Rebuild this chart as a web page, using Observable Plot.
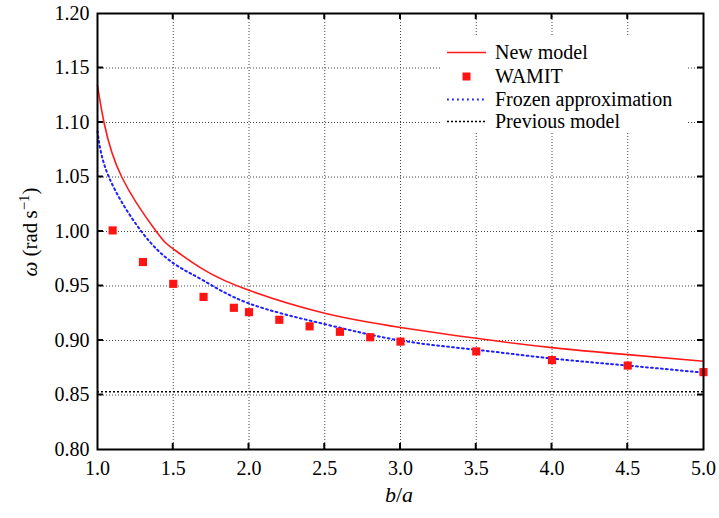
<!DOCTYPE html>
<html>
<head>
<meta charset="utf-8">
<script src="https://cdn.jsdelivr.net/npm/d3@7"></script>
<script src="https://cdn.jsdelivr.net/npm/@observablehq/plot@0.6"></script>
<style>
  html, body { margin: 0; padding: 0; background: white; }
  svg { display: block; }
</style>
</head>
<body>
<div id="chart"></div>
<script>
// ---- data ----
const xTicks = [1.0, 1.5, 2.0, 2.5, 3.0, 3.5, 4.0, 4.5, 5.0];
const yTicks = [0.80, 0.85, 0.90, 0.95, 1.00, 1.05, 1.10, 1.15, 1.20];

const newModelX = [1.0, 1.043, 1.16, 1.388, 1.5, 1.7, 2.0, 2.5, 3.0, 3.5, 4.0, 4.5, 5.0];
const newModelY = [1.134, 1.100, 1.050, 1.000, 0.984, 0.965, 0.946, 0.925, 0.912, 0.902, 0.8935, 0.887, 0.881];

const frozenX = [1.0, 1.075, 1.29, 1.5, 1.7, 2.0, 2.5, 3.0, 3.5, 4.0, 4.5, 5.0];
const frozenY = [1.092, 1.050, 1.000, 0.971, 0.955, 0.934, 0.915, 0.900, 0.8915, 0.8835, 0.877, 0.8705];

const wamitX = [1.1, 1.3, 1.5, 1.7, 1.9, 2.0, 2.2, 2.4, 2.6, 2.8, 3.0, 3.5, 4.0, 4.5, 5.0];
const wamitY = [1.001, 0.972, 0.952, 0.940, 0.930, 0.926, 0.919, 0.913, 0.908, 0.903, 0.899, 0.890, 0.882, 0.877, 0.871];

const previousModel = 0.853;

const seriesNames = ["New model", "WAMIT", "Frozen approximation", "Previous model"];

// ---- build tables ----
const newModel = newModelX.map((x, i) => ({x, y: newModelY[i]}));
const frozen = frozenX.map((x, i) => ({x, y: frozenY[i]}));
const wamit = wamitX.map((x, i) => ({x, y: wamitY[i]}));

// pick an installed serif font
function pickFont(cands) {
  const c = document.createElement("canvas").getContext("2d");
  const s = "Frozen approximation WAMIT 0.123456789 mmmiiilll";
  const base = {};
  for (const g of ["monospace", "sans-serif"]) { c.font = "40px " + g; base[g] = c.measureText(s).width; }
  for (const f of cands) {
    let ok = true;
    for (const g of ["monospace", "sans-serif"]) {
      c.font = `40px "${f}", ${g}`;
      if (Math.abs(c.measureText(s).width - base[g]) < 0.5) ok = false;
    }
    if (ok) return `"${f}", serif`;
  }
  return "serif";
}
const FONT = pickFont(["Liberation Serif", "Tinos", "Times New Roman", "Nimbus Roman", "Nimbus Roman No9 L", "FreeSerif", "Noto Serif", "DejaVu Serif", "serif"]);

const plot = Plot.plot({
  width: 719,
  height: 518,
  marginLeft: 97,
  marginRight: 16,
  marginTop: 13,
  marginBottom: 69,
  x: {domain: [1, 5]},
  y: {domain: [0.8, 1.2]},
  style: {fontFamily: FONT, fontSize: "20px", background: "white", color: "black"},
  marks: [
    Plot.ruleX(xTicks.slice(1, -1), {stroke: "#444", strokeWidth: 1, strokeDasharray: "1,2"}),
    Plot.ruleY(yTicks.slice(1, -1), {stroke: "#444", strokeWidth: 1, strokeDasharray: "1,2"}),
    Plot.ruleY([previousModel], {stroke: "black", strokeWidth: 1.5, strokeDasharray: "2,2"}),
    Plot.line(frozen, {x: "x", y: "y", stroke: "#1f1fff", strokeWidth: 2, strokeDasharray: "1.8,3.2", curve: "natural"}),
    Plot.line(newModel, {x: "x", y: "y", stroke: "#ff1a1a", strokeWidth: 1.6, curve: "natural"}),
    Plot.dot(wamit, {x: "x", y: "y", symbol: "square", fill: "#ff1414", stroke: "none", r: 4.6}),
    Plot.axisX(xTicks, {tickSize: 0, tickPadding: 11, tickFormat: d => d.toFixed(1), label: null}),
    Plot.axisY(yTicks, {tickSize: 0, tickPadding: 8, tickFormat: d => d.toFixed(2), label: null}),
    Plot.frame({stroke: "black", strokeWidth: 2})
  ]
});

document.getElementById("chart").appendChild(plot);
d3.select(plot).selectAll("text").style("font-family", FONT);

// ---- inward ticks, labels and legend ----
const sx = plot.scale("x"), sy = plot.scale("y");
const svg = d3.select(plot);
const L = sx.apply(1), R = sx.apply(5), T = sy.apply(1.2), B = sy.apply(0.8);
const tk = 6;
const tg = svg.append("g").attr("stroke", "black").attr("stroke-width", 2);
xTicks.slice(1, -1).forEach(v => {
  const px = sx.apply(v);
  tg.append("line").attr("x1", px).attr("x2", px).attr("y1", B).attr("y2", B - tk);
  tg.append("line").attr("x1", px).attr("x2", px).attr("y1", T).attr("y2", T + tk);
});
yTicks.slice(1, -1).forEach(v => {
  const py = sy.apply(v);
  tg.append("line").attr("x1", L).attr("x2", L + tk).attr("y1", py).attr("y2", py);
  tg.append("line").attr("x1", R).attr("x2", R - tk).attr("y1", py).attr("y2", py);
});

// x label
const xl = svg.append("text")
  .attr("x", (L + R) / 2 - 1).attr("y", 502)
  .attr("text-anchor", "middle")
  .style("font-family", FONT).attr("font-size", 22).attr("font-style", "italic");
xl.append("tspan").text("b");
xl.append("tspan").attr("font-style", "normal").text("/");
xl.append("tspan").text("a");

// y label
const yl = svg.append("text")
  .attr("transform", `translate(37, ${(T + B) / 2 + 1}) rotate(-90)`)
  .attr("text-anchor", "middle")
  .style("font-family", FONT).attr("font-size", 21);
yl.append("tspan").attr("font-style", "italic").text("ω");
yl.append("tspan").text(" (rad\u2009s");
yl.append("tspan").attr("font-size", 15).attr("dy", -8).text("\u22121");
yl.append("tspan").attr("dy", 8).text(")");

// legend
const lg = svg.append("g");
lg.append("rect").attr("x", 440).attr("y", 35).attr("width", 248).attr("height", 98).attr("fill", "white");
const rows = [52.5, 76.5, 99.5, 121.5];
const lx1 = 447, lx2 = 486, tx = 495;
lg.append("line").attr("x1", lx1).attr("x2", lx2).attr("y1", rows[0]).attr("y2", rows[0])
  .attr("stroke", "#ff1a1a").attr("stroke-width", 1.6);
lg.append("rect").attr("x", 462.5).attr("y", rows[1] - 4).attr("width", 8).attr("height", 8).attr("fill", "#ff1414");
lg.append("line").attr("x1", lx1).attr("x2", lx2).attr("y1", rows[2]).attr("y2", rows[2])
  .attr("stroke", "#1f1fff").attr("stroke-width", 2).attr("stroke-dasharray", "1.8,3.2");
lg.append("line").attr("x1", lx1).attr("x2", lx2).attr("y1", rows[3]).attr("y2", rows[3])
  .attr("stroke", "black").attr("stroke-width", 1.5).attr("stroke-dasharray", "2,2");
seriesNames.forEach((name, i) => {
  lg.append("text").attr("x", tx).attr("y", rows[i]).attr("dy", "0.34em")
    .attr("text-anchor", "start")
    .style("font-family", FONT).attr("font-size", 20).text(name);
});
</script>
</body>
</html>
